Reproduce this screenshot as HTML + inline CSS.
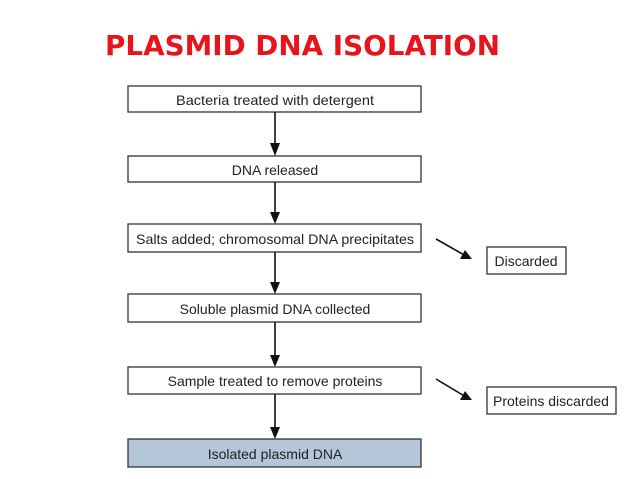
<!DOCTYPE html>
<html><head><meta charset="utf-8"><style>body{margin:0;background:#fff}svg{display:block}</style></head>
<body>
<svg width="638" height="479" xmlns="http://www.w3.org/2000/svg" font-family="Liberation Sans, DejaVu Sans, sans-serif">
<text x="105" y="55" font-size="28" font-weight="bold" fill="#e8141c" textLength="395" lengthAdjust="spacingAndGlyphs" font-family="DejaVu Sans, sans-serif">PLASMID DNA ISOLATION</text>
<g stroke="#333" stroke-width="1.3" fill="#fff">
<rect x="128" y="86" width="293" height="26"/>
<rect x="128" y="156" width="293" height="26"/>
<rect x="128" y="224" width="293" height="28"/>
<rect x="128" y="294" width="293" height="28"/>
<rect x="128" y="367" width="293" height="27"/>
<rect x="128" y="439" width="293" height="28" fill="#b4c6d8"/>
<rect x="487" y="247" width="79" height="27"/>
<rect x="487" y="387" width="129" height="27"/>
</g>
<g stroke="#111" stroke-width="1.6">
<line x1="275" y1="112" x2="275" y2="145"/>
<line x1="275" y1="182" x2="275" y2="213"/>
<line x1="275" y1="252" x2="275" y2="283"/>
<line x1="275" y1="322" x2="275" y2="356"/>
<line x1="275" y1="394" x2="275" y2="428"/>
<line x1="436" y1="239" x2="466" y2="256"/>
<line x1="436" y1="379" x2="466" y2="397"/>
</g>
<g fill="#111">
<polygon points="270,143 280,143 275,156"/>
<polygon points="270,212 280,212 275,224"/>
<polygon points="270,282 280,282 275,294"/>
<polygon points="270,355 280,355 275,367"/>
<polygon points="270,427 280,427 275,439"/>
<polygon points="472,259 460,259 465,250"/>
<polygon points="472,400 460,400 465,391"/>
</g>
<g font-size="14" fill="#222" text-anchor="middle">
<text x="275" y="105" textLength="198" lengthAdjust="spacingAndGlyphs">Bacteria treated with detergent</text>
<text x="275" y="175">DNA released</text>
<text x="275" y="244" textLength="278" lengthAdjust="spacingAndGlyphs">Salts added; chromosomal DNA precipitates</text>
<text x="275" y="314">Soluble plasmid DNA collected</text>
<text x="275" y="386">Sample treated to remove proteins</text>
<text x="275" y="459">Isolated plasmid DNA</text>
<text x="526" y="266">Discarded</text>
<text x="551" y="406">Proteins discarded</text>
</g>
</svg>
</body></html>
